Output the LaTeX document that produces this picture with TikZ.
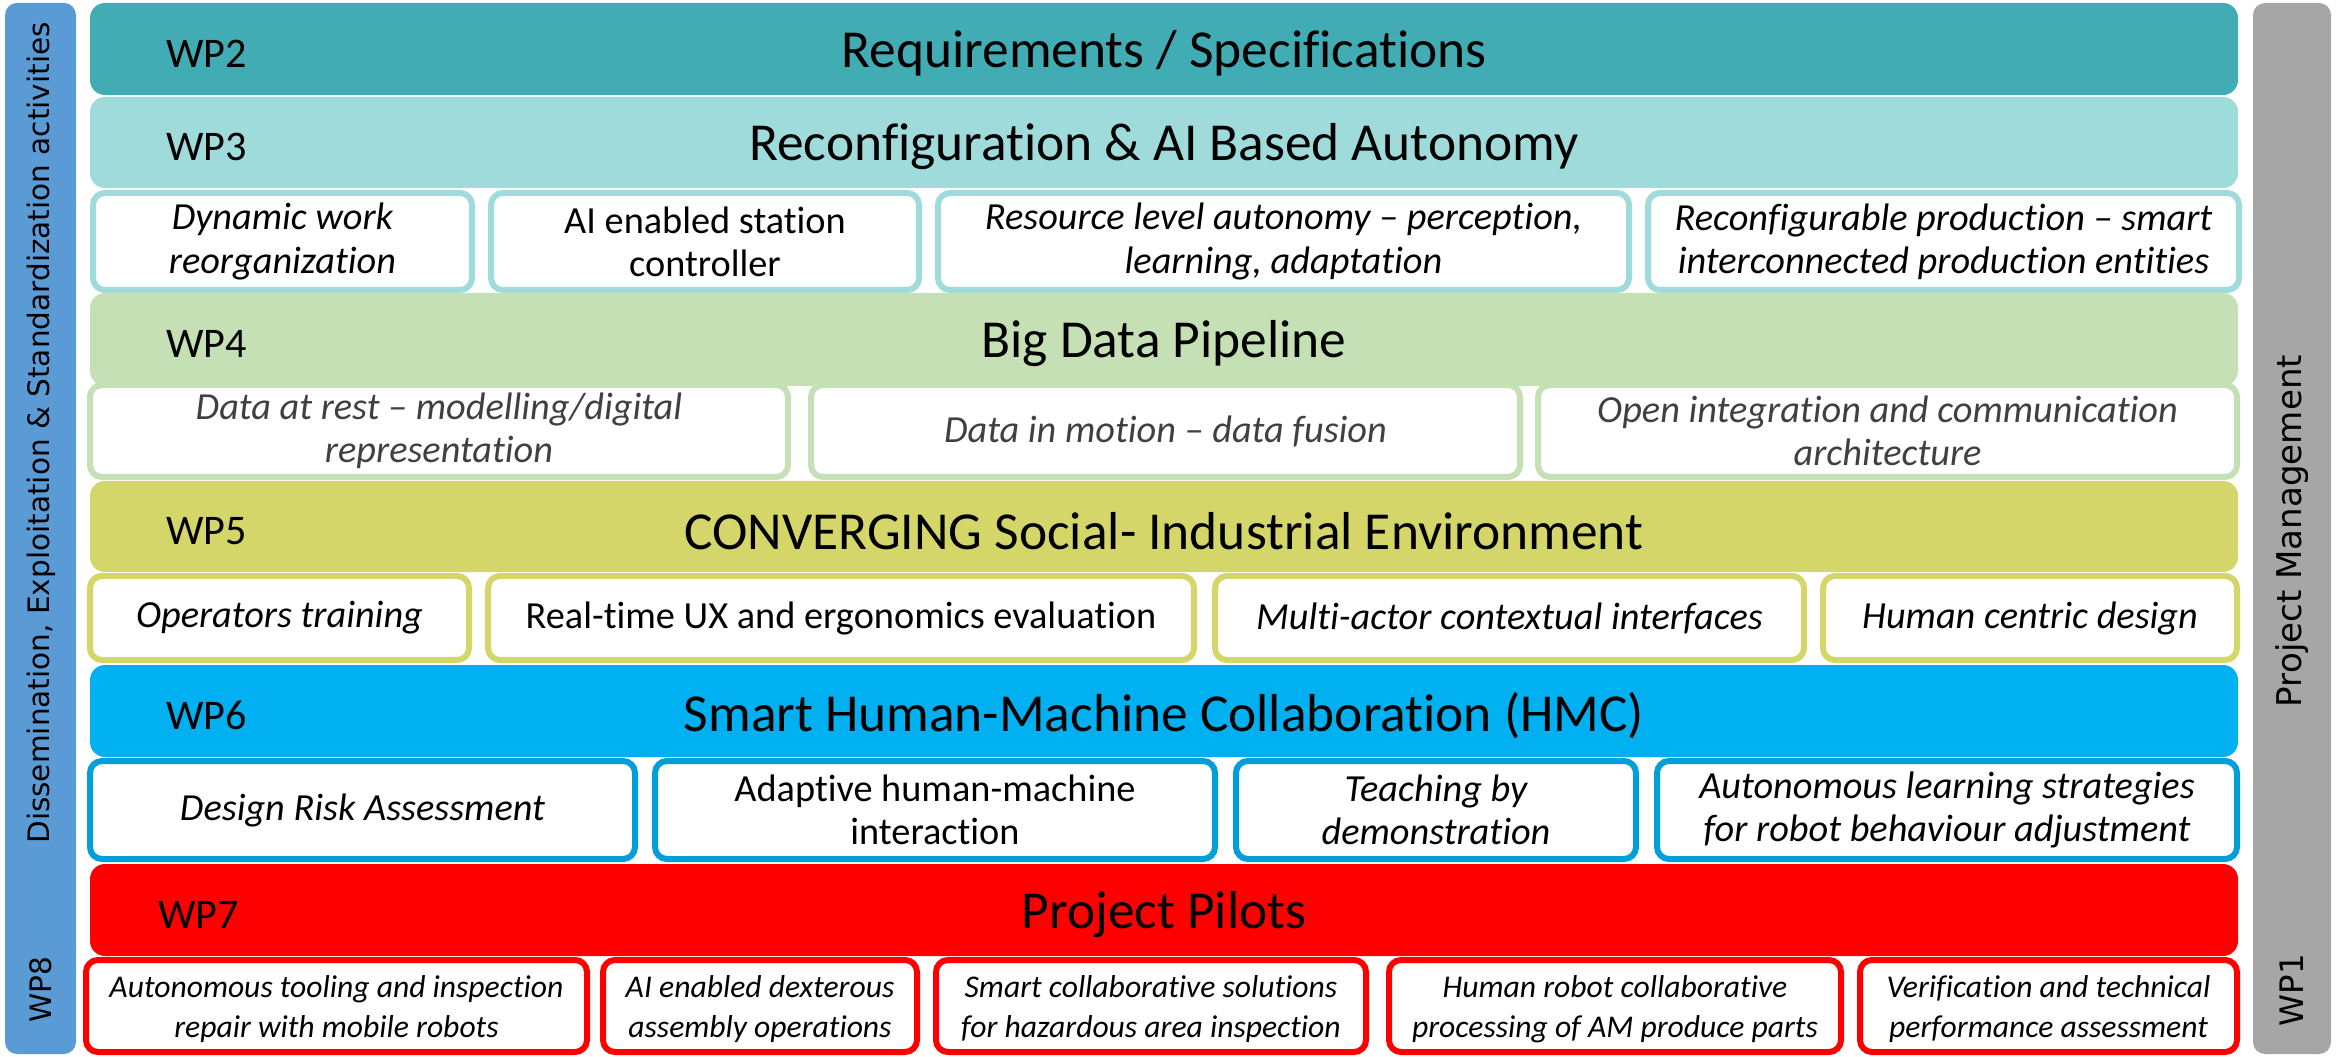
\documentclass[tikz,border=0pt]{standalone}
\usepackage{fontspec}
\setmainfont{Carlito}[Ligatures=NoCommon]
\newfontfamily\sidefont{DejaVu Sans}
\usetikzlibrary{fit}

\definecolor{wptwo}{HTML}{41ACB4}
\definecolor{wpthree}{HTML}{A0DBDC}
\definecolor{wpfour}{HTML}{C5E0B4}
\definecolor{wpfive}{HTML}{D5D66A}
\definecolor{wpsix}{HTML}{00B0F0}
\definecolor{wpsixline}{HTML}{009FDA}
\definecolor{wpseven}{HTML}{FF0000}
\definecolor{dissem}{HTML}{5B9BD5}
\definecolor{mgmt}{HTML}{A6A6A6}
\definecolor{greytext}{HTML}{404040}

\tikzset{
    wpbar/.style = {rounded corners=0.15cm, inner sep=0pt},
    wptitle/.style = {font=\fontsize{15.2}{18}\selectfont, yshift=-0.045cm},
    wplabel/.style = {font=\fontsize{12}{14}\selectfont, anchor=west, yshift=-0.045cm},
    task/.style = {draw, fill=white, line width=0.06cm, rounded corners=0.12cm, inner sep=0pt},
    pilot/.style = {task, draw=wpseven},
    tasktext/.style = {align=center, font=\fontsize{10.9}{12.3}\selectfont},
    pilottext/.style = {align=center, font=\fontsize{9}{11.4}\selectfont, yshift=-0.03cm},
    slanted/.style = {execute at begin node=\itshape},
    sidebar/.style = {rounded corners=0.12cm, inner sep=0pt},
    sidetext/.style = {rotate=90, font=\sidefont\fontsize{8.4}{10}\selectfont}
}

\begin{document}
\begin{tikzpicture}
    \useasboundingbox (0,0) rectangle (23.41,-10.57);

    % side bars
    \node[sidebar, fill=dissem, fit={(0.05,-0.03) (0.76,-10.54)}] (dissbar) {};
    \node[sidetext] (disstext) at (0.41,-4.33) {Dissemination, Exploitation \& Standardization activities};
    \node[sidetext] (wp8) at (0.41,-9.90) {WP8};
    \node[sidebar, fill=mgmt, fit={(22.53,-0.03) (23.31,-10.54)}] (mgmtbar) {};
    \node[sidetext, font=\sidefont\fontsize{9.7}{11}\selectfont] (mgmttext) at (22.92,-5.31) {Project Management};
    \node[sidetext, font=\sidefont\fontsize{9.2}{11}\selectfont] (wp1) at (22.92,-9.90) {WP1};

    % WP2
    \node[wpbar, fill=wptwo, fit={(0.90,-0.03) (22.38,-0.95)}] (wp2bar) {};
    \node[wptitle] (wp2title) at (wp2bar.center) {Requirements / Specifications};
    \node[wplabel] (wp2) at (1.54,0 |- wp2bar.center) {WP2};

    % WP3
    \node[wpbar, fill=wpthree, fit={(0.90,-0.97) (22.38,-1.88)}] (wp3bar) {};
    \node[wptitle] (wp3title) at (wp3bar.center) {Reconfiguration \& AI Based Autonomy};
    \node[wplabel] (wp3) at (1.54,0 |- wp3bar.center) {WP3};
    \node[task, draw=wpthree, fit={(0.93,-1.93) (4.72,-2.90)}] (t31) {};
    \node[task, draw=wpthree, fit={(4.91,-1.93) (9.19,-2.90)}] (t32) {};
    \node[task, draw=wpthree, fit={(9.38,-1.93) (16.29,-2.90)}] (t33) {};
    \node[task, draw=wpthree, fit={(16.48,-1.93) (22.39,-2.90)}] (t34) {};
    \node[tasktext, slanted] (t31text) at (t31.center) {Dynamic work\\reorganization};
    \node[tasktext] (t32text) at (t32.center) {AI enabled station\\controller};
    \node[tasktext, slanted] (t33text) at (t33.center) {Resource level autonomy -- perception,\\learning, adaptation};
    \node[tasktext, slanted] (t34text) at (t34.center) {Reconfigurable production -- smart\\interconnected production entities};

    % WP4
    \node[wpbar, fill=wpfour, fit={(0.90,-2.93) (22.38,-3.86)}] (wp4bar) {};
    \node[wptitle] (wp4title) at (wp4bar.center) {Big Data Pipeline};
    \node[wplabel] (wp4) at (1.54,0 |- wp4bar.center) {WP4};
    \node[task, draw=wpfour, fit={(0.90,-3.85) (7.88,-4.77)}] (t41) {};
    \node[task, draw=wpfour, fit={(8.11,-3.85) (15.20,-4.77)}] (t42) {};
    \node[task, draw=wpfour, fit={(15.38,-3.85) (22.37,-4.77)}] (t43) {};
    \node[tasktext, slanted, text=greytext] (t41text) at (t41.center) {Data at rest -- modelling/digital\\representation};
    \node[tasktext, slanted, text=greytext] (t42text) at (t42.center) {Data in motion -- data fusion};
    \node[tasktext, slanted, text=greytext] (t43text) at (t43.center) {Open integration and communication\\architecture};

    % WP5
    \node[wpbar, fill=wpfive, fit={(0.90,-4.81) (22.38,-5.72)}] (wp5bar) {};
    \node[wptitle] (wp5title) at (wp5bar.center) {CONVERGING Social- Industrial Environment};
    \node[wplabel] (wp5) at (1.54,0 |- wp5bar.center) {WP5};
    \node[task, draw=wpfive, fit={(0.90,-5.76) (4.69,-6.60)}] (t51) {};
    \node[task, draw=wpfive, fit={(4.88,-5.76) (11.94,-6.60)}] (t52) {};
    \node[task, draw=wpfive, fit={(12.15,-5.76) (18.04,-6.60)}] (t53) {};
    \node[task, draw=wpfive, fit={(18.23,-5.76) (22.37,-6.60)}] (t54) {};
    \node[tasktext, slanted] (t51text) at (t51.center) {Operators training};
    \node[tasktext] (t52text) at (t52.center) {Real-time UX and ergonomics evaluation};
    \node[tasktext, slanted] (t53text) at (t53.center) {Multi-actor contextual interfaces};
    \node[tasktext, slanted] (t54text) at (t54.center) {Human centric design};

    % WP6
    \node[wpbar, fill=wpsix, fit={(0.90,-6.65) (22.38,-7.57)}] (wp6bar) {};
    \node[wptitle] (wp6title) at (wp6bar.center) {Smart Human-Machine Collaboration (HMC)};
    \node[wplabel] (wp6) at (1.54,0 |- wp6bar.center) {WP6};
    \node[task, draw=wpsixline, fit={(0.90,-7.61) (6.35,-8.59)}] (t61) {};
    \node[task, draw=wpsixline, fit={(6.55,-7.61) (12.15,-8.59)}] (t62) {};
    \node[task, draw=wpsixline, fit={(12.36,-7.61) (16.36,-8.59)}] (t63) {};
    \node[task, draw=wpsixline, fit={(16.57,-7.61) (22.37,-8.59)}] (t64) {};
    \node[tasktext, slanted] (t61text) at (t61.center) {Design Risk Assessment};
    \node[tasktext] (t62text) at (t62.center) {Adaptive human-machine\\interaction};
    \node[tasktext, slanted] (t63text) at (t63.center) {Teaching by\\demonstration};
    \node[tasktext, slanted] (t64text) at (t64.center) {Autonomous learning strategies\\for robot behaviour adjustment};

    % WP7
    \node[wpbar, fill=wpseven, fit={(0.90,-8.64) (22.38,-9.56)}] (wp7bar) {};
    \node[wptitle] (wp7title) at (wp7bar.center) {Project Pilots};
    \node[wplabel] (wp7) at (1.46,0 |- wp7bar.center) {WP7};
    \node[pilot, fit={(0.86,-9.60) (5.87,-10.52)}] (t71) {};
    \node[pilot, fit={(6.03,-9.60) (9.17,-10.52)}] (t72) {};
    \node[pilot, fit={(9.36,-9.60) (13.66,-10.52)}] (t73) {};
    \node[pilot, fit={(13.89,-9.60) (18.41,-10.52)}] (t74) {};
    \node[pilot, fit={(18.60,-9.60) (22.37,-10.52)}] (t75) {};
    \node[pilottext, slanted] (t71text) at (t71.center) {Autonomous tooling and inspection\\repair with mobile robots};
    \node[pilottext, slanted] (t72text) at (t72.center) {AI enabled dexterous\\assembly operations};
    \node[pilottext, slanted] (t73text) at (t73.center) {Smart collaborative solutions\\for hazardous area inspection};
    \node[pilottext, slanted] (t74text) at (t74.center) {Human robot collaborative\\processing of AM produce parts};
    \node[pilottext, slanted] (t75text) at (t75.center) {Verification and technical\\performance assessment};
\end{tikzpicture}
\end{document}
